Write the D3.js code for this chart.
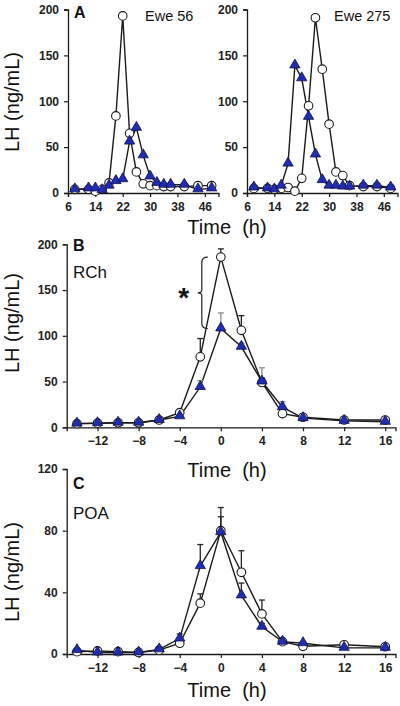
<!DOCTYPE html>
<html><head><meta charset="utf-8">
<script src="https://cdn.jsdelivr.net/npm/d3@7"></script>
<style>html,body{margin:0;padding:0;background:#fff;}svg{display:block;}</style>
</head><body>
<svg id="c" width="400" height="706"></svg>
<script>
// ---------- DATA ----------
const timesA = [8,12,14,16,18,20,22,24,26,28,30,32,34,36,40,44,48];
const ewe56Circle   = [4,4,2,4,11,84,193,65,23,10,8,8,7,7,7,8,8];
const ewe56Triangle = [4,5,5,3,8,13,15,56,71,41,18,11,9,9,9,4,5];
const ewe275Circle   = [5,5,4,5,6,2,16,95,191,135,75,23,19,8,7,7,5];
const ewe275Triangle = [6,5,4,8,32,139,125,83,42,14,8,8,7,7,8,8,6];
const ticksA = [6,14,22,30,38,46];
const yTicksA = [0,50,100,150,200];

const timesBC = [-14,-12,-10,-8,-6,-4,-2,0,2,4,6,8,12,16];
const rchCircle      = [4,4.5,5,5,8,16,77,186,106,49,15,11,8,8];
const rchCircleErr   = [1,1,1,1,2,3,20,9,16,5,3,2,1,1];
const rchTriangle    = [4,4.5,5,5,8,12,44,108,88,50,22,10,7,6];
const rchTriangleErr = [1,1,1,1,3,2,7,17,4,15,6,2,1,1];
const poaCircle      = [1.5,2,1.5,1,2.5,7,33,80,53,26,8,5,6,4.7];
const poaCircleErr   = [0.5,0.5,0.5,0.5,1,2,6,15,14,9,1,1,1,1];
const poaTriangle    = [2.5,1,1,1,3,10,57,79,38,17.7,8,7,4,4];
const poaTriangleErr = [0.5,0.5,0.5,0.5,1,3,14,10,8,2,1,1,1,1];
const ticksBC = [-12,-8,-4,0,4,8,12,16];
const yTicksB = [0,50,100,150,200];
const yTicksC = [0,40,80,120];

// ---------- DRAW ----------
const svg = d3.select("#c");
const FONT = "'Liberation Sans', Arial, sans-serif";
const BLUE = "#1e2db4";
const LINE = "#1a1a1a";

function axes(x, y, xt, yt) {
  const gx = svg.append("g").attr("transform", `translate(0,${y.range()[0]})`)
    .call(d3.axisBottom(x).tickValues(xt).tickSize(4).tickPadding(5).tickFormat(d3.format("d")));
  const gy = svg.append("g").attr("transform", `translate(${x.range()[0]},0)`)
    .call(d3.axisLeft(y).tickValues(yt).tickSize(4).tickPadding(5));
  [gx, gy].forEach(g => {
    g.select(".domain").attr("stroke", LINE).attr("stroke-width", 1.3);
    g.selectAll(".tick line").attr("stroke", LINE).attr("stroke-width", 1.2);
    g.selectAll("text").attr("font-family", FONT).attr("font-size", 12)
      .attr("font-weight", "bold").attr("fill", "#222");
  });
}

function series(x, y, t, vals, err) {
  const pts = t.map((d, i) => ({t: d, v: vals[i], e: err ? err[i] : 0}));
  const line = d3.line().x(d => x(d.t)).y(d => y(d.v));
  svg.append("path").datum(pts).attr("d", line).attr("fill", "none")
    .attr("stroke", LINE).attr("stroke-width", 1.4);
  return pts;
}
function errbars(x, y, pts, color) {
  const g = svg.append("g").attr("stroke", color).attr("stroke-width", 1.3);
  pts.filter(d => d.e > 0).forEach(d => {
    g.append("line").attr("x1", x(d.t)).attr("x2", x(d.t)).attr("y1", y(d.v)).attr("y2", y(d.v + d.e));
    g.append("line").attr("x1", x(d.t) - 3).attr("x2", x(d.t) + 3).attr("y1", y(d.v + d.e)).attr("y2", y(d.v + d.e));
  });
}
function markers(x, y, pts, kind) {
  if (kind === "circle") {
    svg.append("g").selectAll("circle").data(pts).join("circle")
      .attr("cx", d => x(d.t)).attr("cy", d => y(d.v)).attr("r", 4.3)
      .attr("fill", "#fff").attr("stroke", LINE).attr("stroke-width", 1.1);
  } else {
    const sym = d3.symbol().type(d3.symbolTriangle).size(46);
    svg.append("g").selectAll("path").data(pts).join("path")
      .attr("transform", d => `translate(${x(d.t)},${y(d.v) - 0.5})`)
      .attr("d", sym).attr("fill", BLUE).attr("stroke", "#10104a").attr("stroke-width", 0.8);
  }
}

function panel(x, y, t, cVals, tVals, cErr, tErr, cErrColor, tErrColor) {
  const pc = series(x, y, t, cVals, cErr);
  const pt = series(x, y, t, tVals, tErr);
  if (cErr) errbars(x, y, pc, cErrColor);
  if (tErr) errbars(x, y, pt, tErrColor);
  markers(x, y, pc, "circle");
  markers(x, y, pt, "triangle");
}

function text(s, x, y, size, opts = {}) {
  const t = svg.append("text").attr("x", x).attr("y", y).text(s)
    .attr("font-family", FONT).attr("font-size", size).attr("fill", opts.fill || "#111");
  if (opts.bold) t.attr("font-weight", "bold");
  if (opts.anchor) t.attr("text-anchor", opts.anchor);
  if (opts.rotate) t.attr("transform", `rotate(-90,${x},${y})`);
  return t;
}

const TIME = "Time\u00a0\u00a0(h)";

// Panel A
const yA = d3.scaleLinear().domain([0, 200]).range([193, 9.5]);
const xA1 = d3.scaleLinear().domain([6, 50]).range([68, 218.5]);
const xA2 = d3.scaleLinear().domain([6, 50]).range([247, 397.5]);
axes(xA1, yA, ticksA, yTicksA);
axes(xA2, yA, ticksA, yTicksA);
panel(xA1, yA, timesA, ewe56Circle, ewe56Triangle);
panel(xA2, yA, timesA, ewe275Circle, ewe275Triangle);
text("A", 74, 18, 16, {bold: true});
text("Ewe 56", 145, 21, 14.5);
text("Ewe 275", 334, 21, 14.5);
text("LH (ng/mL)", 19, 102, 20, {anchor: "middle", rotate: true});
text(TIME, 227, 234, 20, {anchor: "middle"});

// Panel B
const xBC = d3.scaleLinear().domain([-15, 17]).range([66.7, 395.5]);
const yB = d3.scaleLinear().domain([0, 200]).range([427.3, 244.3]);
axes(xBC, yB, ticksBC, yTicksB);
panel(xBC, yB, timesBC, rchCircle, rchTriangle, rchCircleErr, rchTriangleErr, "#222", "#8a8a8a");
text("B", 73, 251, 16, {bold: true});
text("RCh", 73, 278, 17);
text("LH (ng/mL)", 19, 323, 20, {anchor: "middle", rotate: true});
text(TIME, 227, 477, 20, {anchor: "middle"});

// significance bracket between circle and triangle at t=0
const bx = xBC(0) - 19, y1 = yB(rchCircle[7]), y2 = yB(rchTriangle[7]);
const ym = (y1 + y2) / 2;
svg.append("path")
  .attr("d", `M${bx + 6},${y1} Q${bx},${y1} ${bx},${y1 + 5} L${bx},${ym - 3} Q${bx},${ym} ${bx - 4},${ym} Q${bx},${ym} ${bx},${ym + 3} L${bx},${y2 - 5} Q${bx},${y2} ${bx + 6},${y2}`)
  .attr("fill", "none").attr("stroke", "#222").attr("stroke-width", 1.2);
text("*", bx - 18, ym + 14, 28, {bold: true, anchor: "middle"});

// Panel C
const yC = d3.scaleLinear().domain([0, 120]).range([654, 469]);
axes(xBC, yC, ticksBC, yTicksC);
panel(xBC, yC, timesBC, poaCircle, poaTriangle, poaCircleErr, poaTriangleErr, "#222", "#222");
text("C", 73, 489, 16, {bold: true});
text("POA", 73, 519, 17);
text("LH (ng/mL)", 19, 572, 20, {anchor: "middle", rotate: true});
text(TIME, 227, 697, 20, {anchor: "middle"});
</script>
</body></html>
